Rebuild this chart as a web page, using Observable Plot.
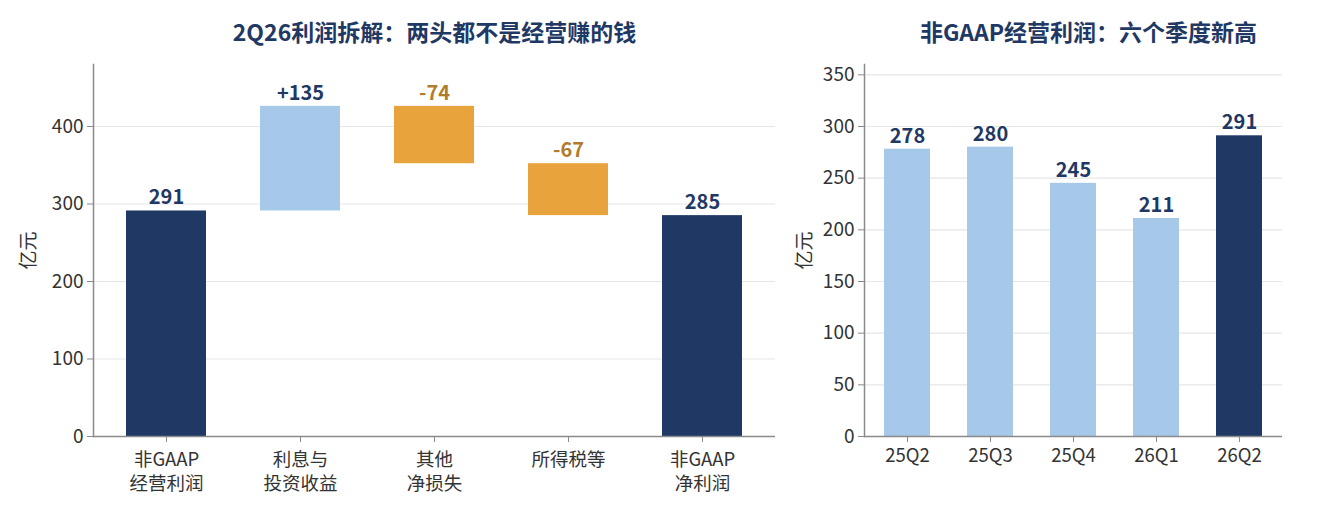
<!DOCTYPE html>
<html><head><meta charset="utf-8">
<script src="https://cdn.jsdelivr.net/npm/d3@7"></script>
<script src="https://cdn.jsdelivr.net/npm/@observablehq/plot@0.6"></script>
<style>
body{margin:0;background:#fff;font-family:"Noto Sans CJK SC","Noto Sans",sans-serif;}
#wrap{display:flex;width:1329px;height:513px;overflow:hidden;}
#wrap svg{display:block;overflow:visible;}
</style></head><body><div id="wrap"></div>
<script>
// ---- Left: waterfall ----
const wfCategories = ["非GAAP经营利润","利息与投资收益","其他净损失","所得税等","非GAAP净利润"];
const wfTickLabels = ["非GAAP\n经营利润","利息与\n投资收益","其他\n净损失","所得税等","非GAAP\n净利润"];
const wfStart = [0, 291, 426, 352, 0];
const wfEnd = [291, 426, 352, 285, 285];
const wfLabels = ["291","+135","-74","-67","285"];
const wfKinds = ["total","gain","loss","loss","total"];
const wfTicks = [0,100,200,300,400];
const wfTitle = "2Q26利润拆解：两头都不是经营赚的钱";

// ---- Right: quarterly non-GAAP operating profit ----
const qCategories = ["25Q2","25Q3","25Q4","26Q1","26Q2"];
const qValues = [278,280,245,211,291];
const qKinds = ["past","past","past","past","current"];
const qTicks = [0,50,100,150,200,250,300,350];
const qTitle = "非GAAP经营利润：六个季度新高";

const unitLabel = "亿元";
const NAVY = "#1f3864", LIGHT = "#a6c8e9", ORANGE = "#e8a33c", ORANGE_TXT = "#b27b2b";
const AXIS = "#8a8a8a", GRID = "#e6e6e6", TICKTXT = "#333";
const FONT = '"Noto Sans CJK SC","Noto Sans",sans-serif';

const wf = wfCategories.map((c,i)=>({cat:c, y1:wfStart[i], y2:wfEnd[i], label:wfLabels[i], kind:wfKinds[i], top:Math.max(wfStart[i],wfEnd[i])}));

const left = Plot.plot({
  width:790, height:513, marginLeft:93, marginRight:15, marginTop:64, marginBottom:77,
  style:{fontFamily:FONT, fontSize:"18px", color:TICKTXT, background:"#fff", overflow:"visible"},
  x:{domain:wfCategories, paddingInner:0.405, paddingOuter:0.238, label:null},
  y:{domain:[0,480], label:null},
  color:{domain:["total","gain","loss"], range:[NAVY, LIGHT, ORANGE]},
  marks:[
    Plot.gridY(wfTicks.slice(1), {stroke:GRID, strokeOpacity:1, strokeWidth:1.2}),
    Plot.barY(wf, {x:"cat", y1:"y1", y2:"y2", fill:"kind"}),
    Plot.text(wf.filter(d=>d.kind!=="loss"), {x:"cat", y:"top", text:"label", dy:-13, fill:NAVY, fontWeight:"bold", fontSize:20}),
    Plot.text(wf.filter(d=>d.kind==="loss"), {x:"cat", y:"top", text:"label", dy:-13, fill:ORANGE_TXT, fontWeight:"bold", fontSize:20}),
    Plot.axisY({ticks:wfTicks, tickSize:6, tickPadding:4, fontSize:19, stroke:AXIS, color:TICKTXT, label:unitLabel, labelAnchor:"center", labelOffset:72, labelArrow:"none"}),
    Plot.axisX({tickFormat:d=>wfTickLabels[wfCategories.indexOf(d)], tickSize:6, tickPadding:6.5, fontSize:18.5, lineHeight:1.3, stroke:AXIS, color:TICKTXT}),
    Plot.ruleY([0], {stroke:AXIS, strokeWidth:1.5}),
    Plot.frame({anchor:"left", stroke:AXIS, strokeWidth:1.5}),
    Plot.text([wfTitle], {frameAnchor:"top", dy:-31, lineAnchor:"middle", fontSize:23, fontWeight:"bold", fill:NAVY})
  ]
});

const q = qCategories.map((c,i)=>({cat:c, v:qValues[i], kind:qKinds[i]}));

const right = Plot.plot({
  width:539, height:513, marginLeft:74, marginRight:47, marginTop:64, marginBottom:77,
  style:{fontFamily:FONT, fontSize:"18px", color:TICKTXT, background:"#fff", overflow:"visible"},
  x:{domain:qCategories, paddingInner:0.45, paddingOuter:0.225, label:null},
  y:{domain:[0,360], label:null},
  color:{domain:["past","current"], range:[LIGHT, NAVY]},
  marks:[
    Plot.gridY(qTicks.slice(1), {stroke:GRID, strokeOpacity:1, strokeWidth:1.2}),
    Plot.barY(q, {x:"cat", y:"v", fill:"kind"}),
    Plot.text(q, {x:"cat", y:"v", text:d=>String(d.v), dy:-13, fill:NAVY, fontWeight:"bold", fontSize:20}),
    Plot.axisY({ticks:qTicks, tickSize:6, tickPadding:4, fontSize:19, stroke:AXIS, color:TICKTXT, label:unitLabel, labelAnchor:"center", labelOffset:67, labelArrow:"none"}),
    Plot.axisX({tickSize:6, tickPadding:6.5, fontSize:18.5, stroke:AXIS, color:TICKTXT}),
    Plot.ruleY([0], {stroke:AXIS, strokeWidth:1.5}),
    Plot.frame({anchor:"left", stroke:AXIS, strokeWidth:1.5}),
    Plot.text([qTitle], {frameAnchor:"top", dx:15, dy:-31, lineAnchor:"middle", fontSize:23, fontWeight:"bold", fill:NAVY})
  ]
});

const wrap = document.getElementById("wrap");
wrap.appendChild(left);
wrap.appendChild(right);
</script>
</body></html>
